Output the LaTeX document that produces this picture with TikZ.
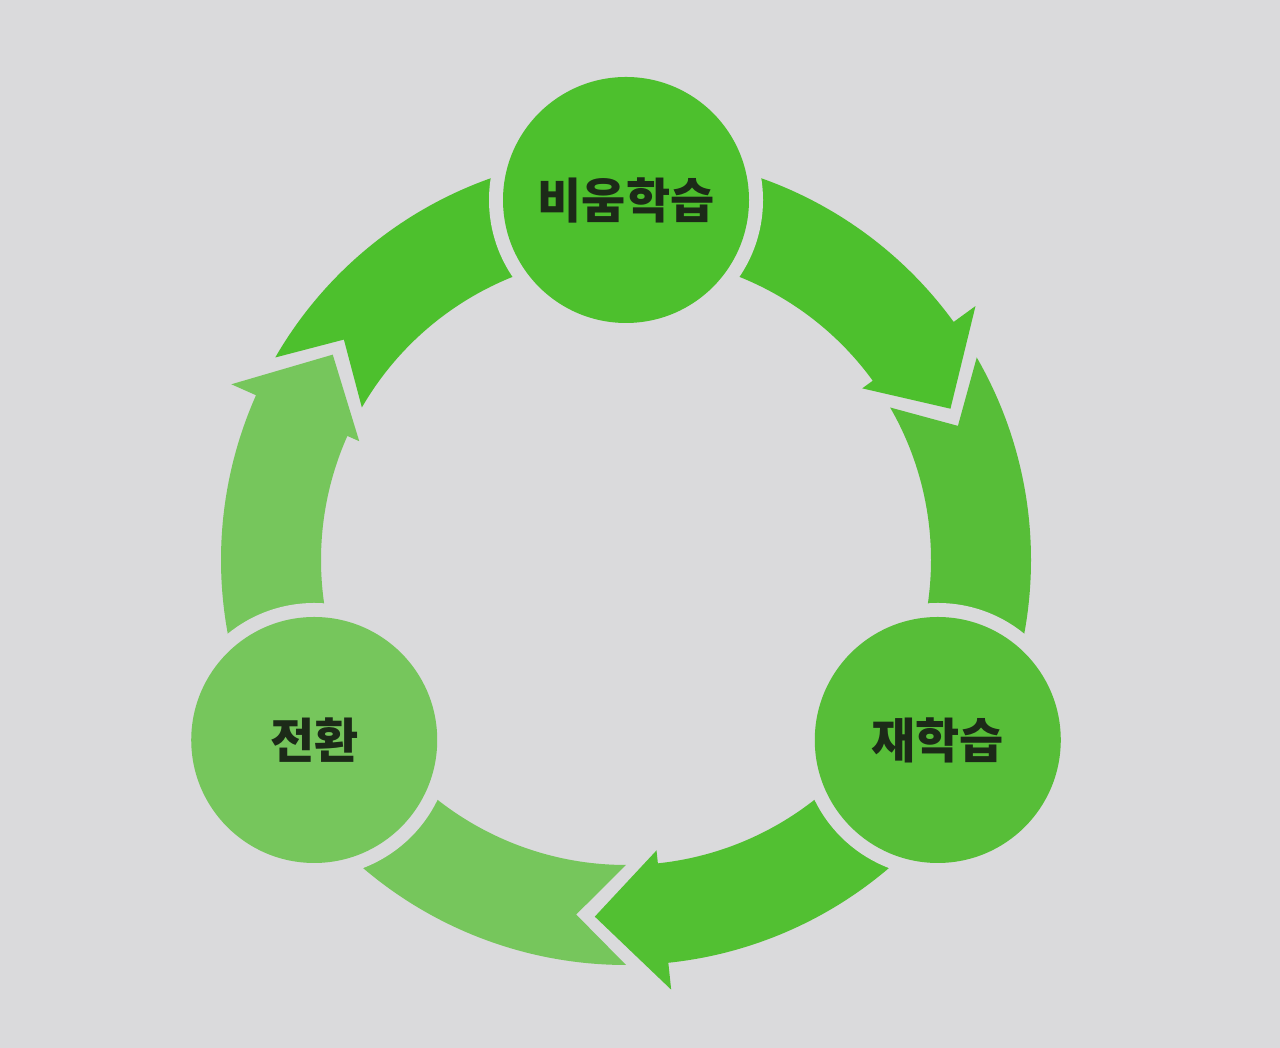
\documentclass[tikz,border=0pt]{standalone}
\usepackage{fontspec}
\newfontfamily\kr{Noto Sans CJK KR}
\definecolor{bgc}{HTML}{DADADC}
\definecolor{topc}{HTML}{4DC02D}
\definecolor{rightc}{HTML}{57BE38}
\definecolor{leftc}{HTML}{76C65C}
\definecolor{botarr}{HTML}{52C032}
\definecolor{txt}{HTML}{1C2A18}
\tikzset{
  bubble/.style={circle, minimum size=246pt, inner sep=0pt,
    preaction={draw=bgc, line width=28pt},
    font=\kr\bfseries\fontsize{48pt}{54pt}\selectfont, text=txt},
}
% segment leaving a circle at angle #1, ending in an arrowhead
\newcommand{\segout}[2]{%
  \fill[#2] ({#1}:405pt) arc[start angle={#1}, end angle={#1-54}, radius=405pt]
    -- ({#1-54}:432pt) -- ({#1-65}:358pt) -- ({#1-54}:292pt) -- ({#1-54}:305pt)
    arc[start angle={#1-54}, end angle={#1}, radius=305pt] -- cycle;}
% segment with notched tail arriving at the next circle
\newcommand{\segin}[2]{%
  \fill[#2] ({#1-60}:405pt) -- ({#1-68}:358pt) -- ({#1-60}:305pt)
    arc[start angle={#1-60}, end angle={#1-120}, radius=305pt]
    -- ({#1-120}:405pt)
    arc[start angle={#1-120}, end angle={#1-60}, radius=405pt] -- cycle;}
\begin{document}
\begin{tikzpicture}[x=1pt,y=1pt]
\fill[bgc] (0,0) rectangle (1280,1048);
\useasboundingbox (0,0) rectangle (1280,1048);
\begin{scope}[shift={(626,488)}]
  \coordinate (O) at (0,0);
  % link top -> right
  \segout{90}{topc}
  \segin{90}{rightc}
  % link right -> left
  \segout{-30}{botarr}
  \segin{-30}{leftc}
  % link left -> top
  \segout{210}{leftc}
  \segin{210}{topc}
  \node[bubble, fill=topc] (top) at (90:360pt) {비움학습};
  \node[bubble, fill=rightc] (right) at (-30:360pt) {재학습};
  \node[bubble, fill=leftc] (left) at (210:360pt) {전환};
\end{scope}
\end{tikzpicture}
\end{document}
